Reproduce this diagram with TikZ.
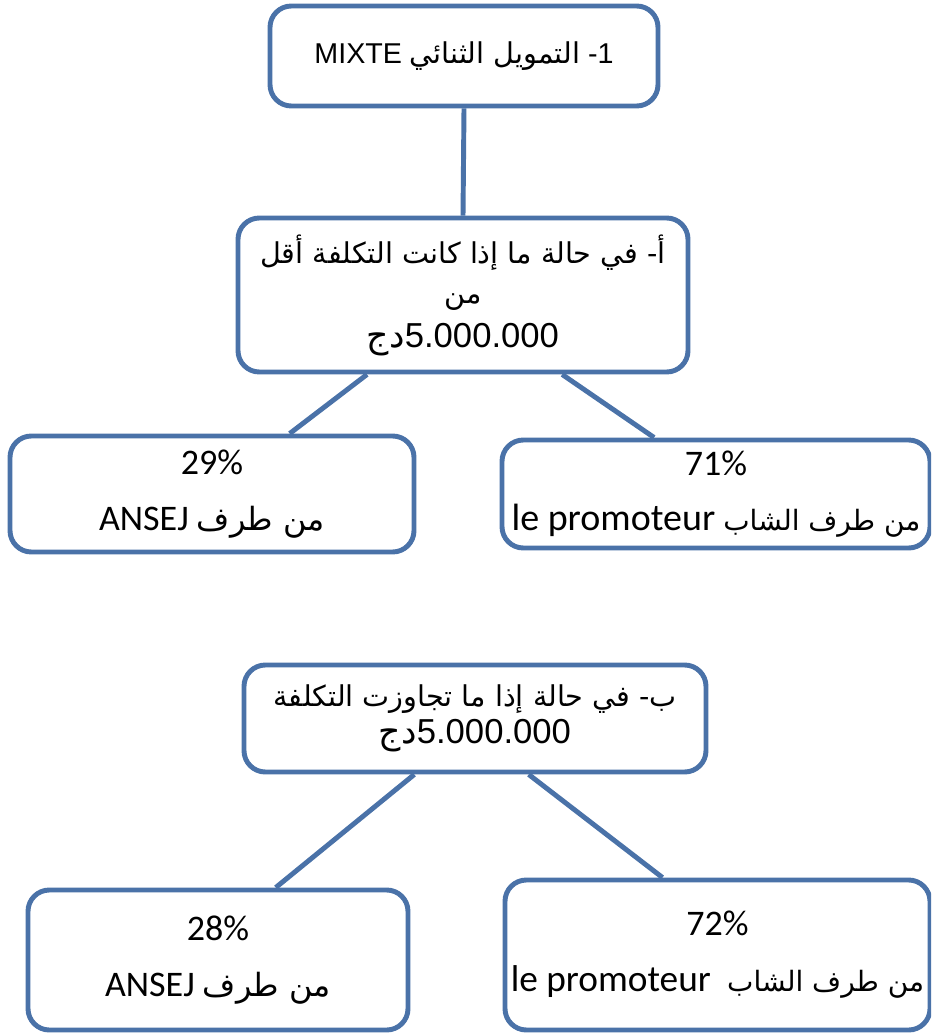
\documentclass[tikz,border=0pt]{standalone}
\usepackage{fontspec}
\setmainfont{Liberation Sans}
\newfontfamily\ar[Script=Arabic]{DejaVu Sans}
\newfontfamily\calfont{Carlito}
\TeXXeTstate=1
\usetikzlibrary{calc}
\definecolor{bord}{RGB}{74,114,168}
\newcommand{\arsm}[2][24]{{\ar\fontsize{#1}{30}\selectfont\beginR #2\endR}}
\begin{document}
\begin{tikzpicture}[x=0.75pt,y=-0.75pt,
  box/.style={draw=bord, line width=3.7pt, rounded corners=16pt, fill=white, align=center, inner sep=0pt, rectangle},
  link/.style={draw=bord, line width=3.7pt},
  big/.style={font=\fontsize{21.5}{30}\selectfont},
  cond/.style={font=\calfont\fontsize{27}{42}\selectfont}]
\useasboundingbox (0,0) rectangle (931,1034);
\clip (0,0) rectangle (931,1034);
% boxes
\node[box, big, minimum width=291pt, minimum height=75pt] (top) at (464,56) {MIXTE {\ar\beginR التمويل الثنائي\endR} -1};
\node[box, big, minimum width=337.5pt, minimum height=115.5pt] (a) at (463,295) {{\ar\beginR أ- في حالة ما إذا كانت التكلفة أقل\endR}\\{\ar\beginR من\endR}\\[3pt]{\fontsize{26}{30}\selectfont{\ar\beginR دج\endR}5.000.000}};
\node[box, cond, minimum width=303pt, minimum height=87pt] (c29) at (212,494) {29\%\\ANSEJ \arsm{من طرف}};
\node[box, cond, minimum width=321pt, minimum height=81pt] (c71) at (716,494) {71\%\\[-1pt]{\fontsize{28.5}{30}\selectfont le promoteur} \arsm[21]{من طرف الشاب}};
\node[box, big, minimum width=346.5pt, minimum height=80.25pt] (b) at (475,718.5) {{\ar\beginR ب- في حالة إذا ما تجاوزت التكلفة\endR}\\[-2pt]{\fontsize{26}{30}\selectfont{\ar\beginR دج\endR}5.000.000}};
\node[box, cond, minimum width=285pt, minimum height=105pt] (c28) at (218,960) {28\%\\ANSEJ \arsm{من طرف}};
\node[box, cond, minimum width=318.75pt, minimum height=112.5pt] (c72) at (717.5,955) {72\%\\{\fontsize{28}{30}\selectfont le promoteur}\ \ \arsm[21]{من طرف الشاب}};
% connectors
\draw[link] (top.south) -- (a.north);
\draw[link] ($(a.south west)!0.289!(a.south east)$) -- ($(c29.north west)!0.69!(c29.north east)$);
\draw[link] ($(a.south west)!0.718!(a.south east)$) -- ($(c71.north west)!0.357!(c71.north east)$);
\draw[link] ($(b.south west)!0.37!(b.south east)$) -- ($(c28.north west)!0.65!(c28.north east)$);
\draw[link] ($(b.south west)!0.615!(b.south east)$) -- ($(c72.north west)!0.372!(c72.north east)$);
\end{tikzpicture}
\end{document}
